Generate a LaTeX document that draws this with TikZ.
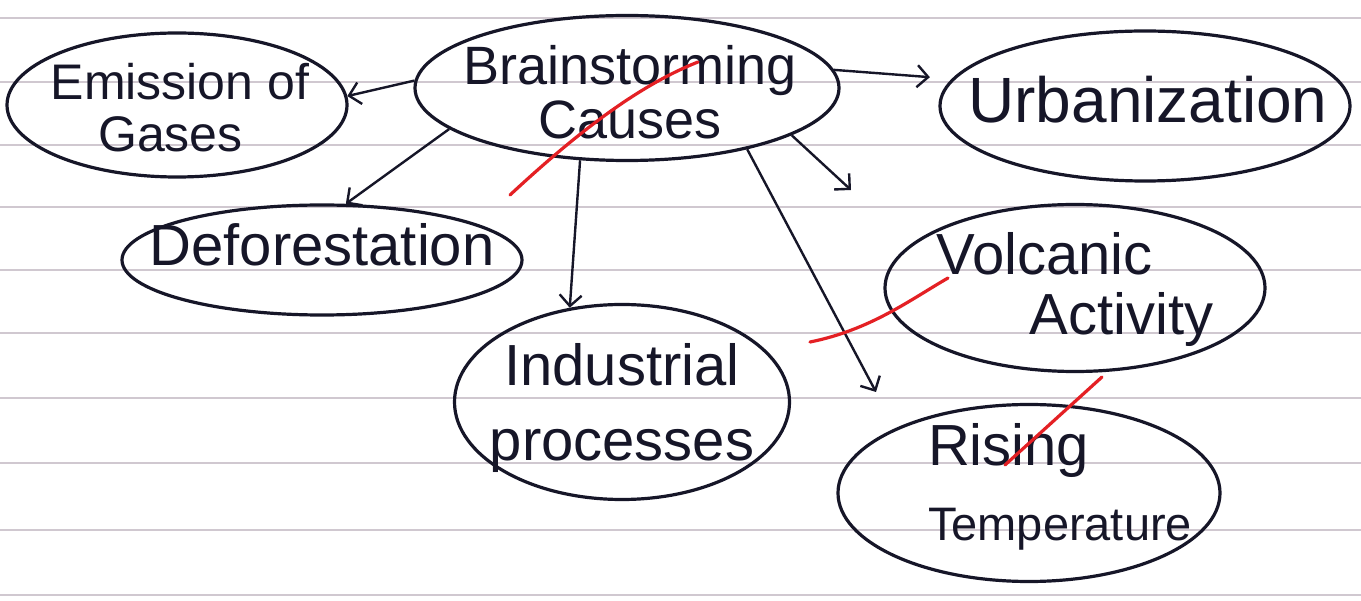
\documentclass[tikz,border=0pt]{standalone}
\usepackage{fontspec}
\setmainfont{Liberation Sans}
\usetikzlibrary{shapes.geometric,arrows.meta}
\definecolor{ink}{RGB}{22,22,40}
\definecolor{rulecol}{RGB}{208,200,208}
\definecolor{redpen}{RGB}{228,32,36}
\begin{document}
\begin{tikzpicture}[x=1pt,y=-1pt,
  bub/.style={ellipse,draw=ink,line width=3.2pt,inner sep=0pt},
  txt/.style={text=ink,align=center,inner sep=0pt},
  arr/.style={draw=ink,line width=2.4pt,-{Straight Barb[length=11pt,width=22pt,line width=2.4pt]}},
  redstroke/.style={draw=redpen,line width=3.2pt,line cap=round},
  paper/.style={draw=rulecol,line width=1.6pt}]
\fill[white] (0,0) rectangle (1361,601);
\useasboundingbox (0,0) rectangle (1361,601);
\foreach \yy in {18,82,145,207,270,333,398,463,530,595}
  \draw[paper] (0,\yy) -- (1361,\yy);

% bubbles
\node[bub,minimum width=424pt,minimum height=145pt] (cen) at (627,88) {};
\node[bub,minimum width=340pt,minimum height=144pt] (emi) at (177,105) {};
\node[bub,minimum width=410pt,minimum height=150pt] (urb) at (1145,106) {};
\node[bub,minimum width=400pt,minimum height=110pt] (def) at (322,260) {};
\node[bub,minimum width=335pt,minimum height=195pt] (ind) at (622,402) {};
\node[bub,minimum width=380pt,minimum height=167pt] (vol) at (1075,288) {};
\node[bub,minimum width=382pt,minimum height=177pt] (ris) at (1029,493) {};

% texts
\node[txt,font=\fontsize{54}{54}\selectfont] (cenT) at (630,92) {Brainstorming\\Causes};
\node[txt,align=left,font=\fontsize{50}{52}\selectfont] (emiT) at (180,108) {Emission of\\\hspace*{0.95em}Gases};
\node[txt,font=\fontsize{64}{64}\selectfont] (urbT) at (1148,100) {Urbanization};
\node[txt,font=\fontsize{58}{58}\selectfont] (defT) at (322,245) {Deforestation};
\node[txt,font=\fontsize{58}{75}\selectfont] (indT) at (622,408) {Industrial\\processes};
\node[txt,align=left,font=\fontsize{58}{60}\selectfont] (volT) at (1075,290) {Volcanic\\\hspace*{1.6em}Activity};
\node[txt,align=left,font=\fontsize{58}{75}\selectfont] (risT) at (1060,487) {Rising\\{\fontsize{47}{75}\selectfont Temperature}};

% free arrow ends
\coordinate (vtip) at (851,190);
\coordinate (rtip) at (876,392);

% connectors
\draw[arr] (cen.178) -- (emi.3);
\draw[arr,shorten >=22pt] (cen.5) -- (urb.172);
\draw[arr] (cen.193) -- (def.67);
\draw[arr] (cen.237) -- (ind.119);
\draw[arr] (cen.344) -- (vtip);
\draw[arr] (cen.333) -- (rtip);

% red pen strokes
\draw[redstroke] (510,195) .. controls (580,130) and (640,85) .. (698,62);
\draw[redstroke] (810,342) .. controls (870,330) and (910,300) .. (948,278);
\draw[redstroke] (1005,465) -- (1102,377);
\end{tikzpicture}
\end{document}
